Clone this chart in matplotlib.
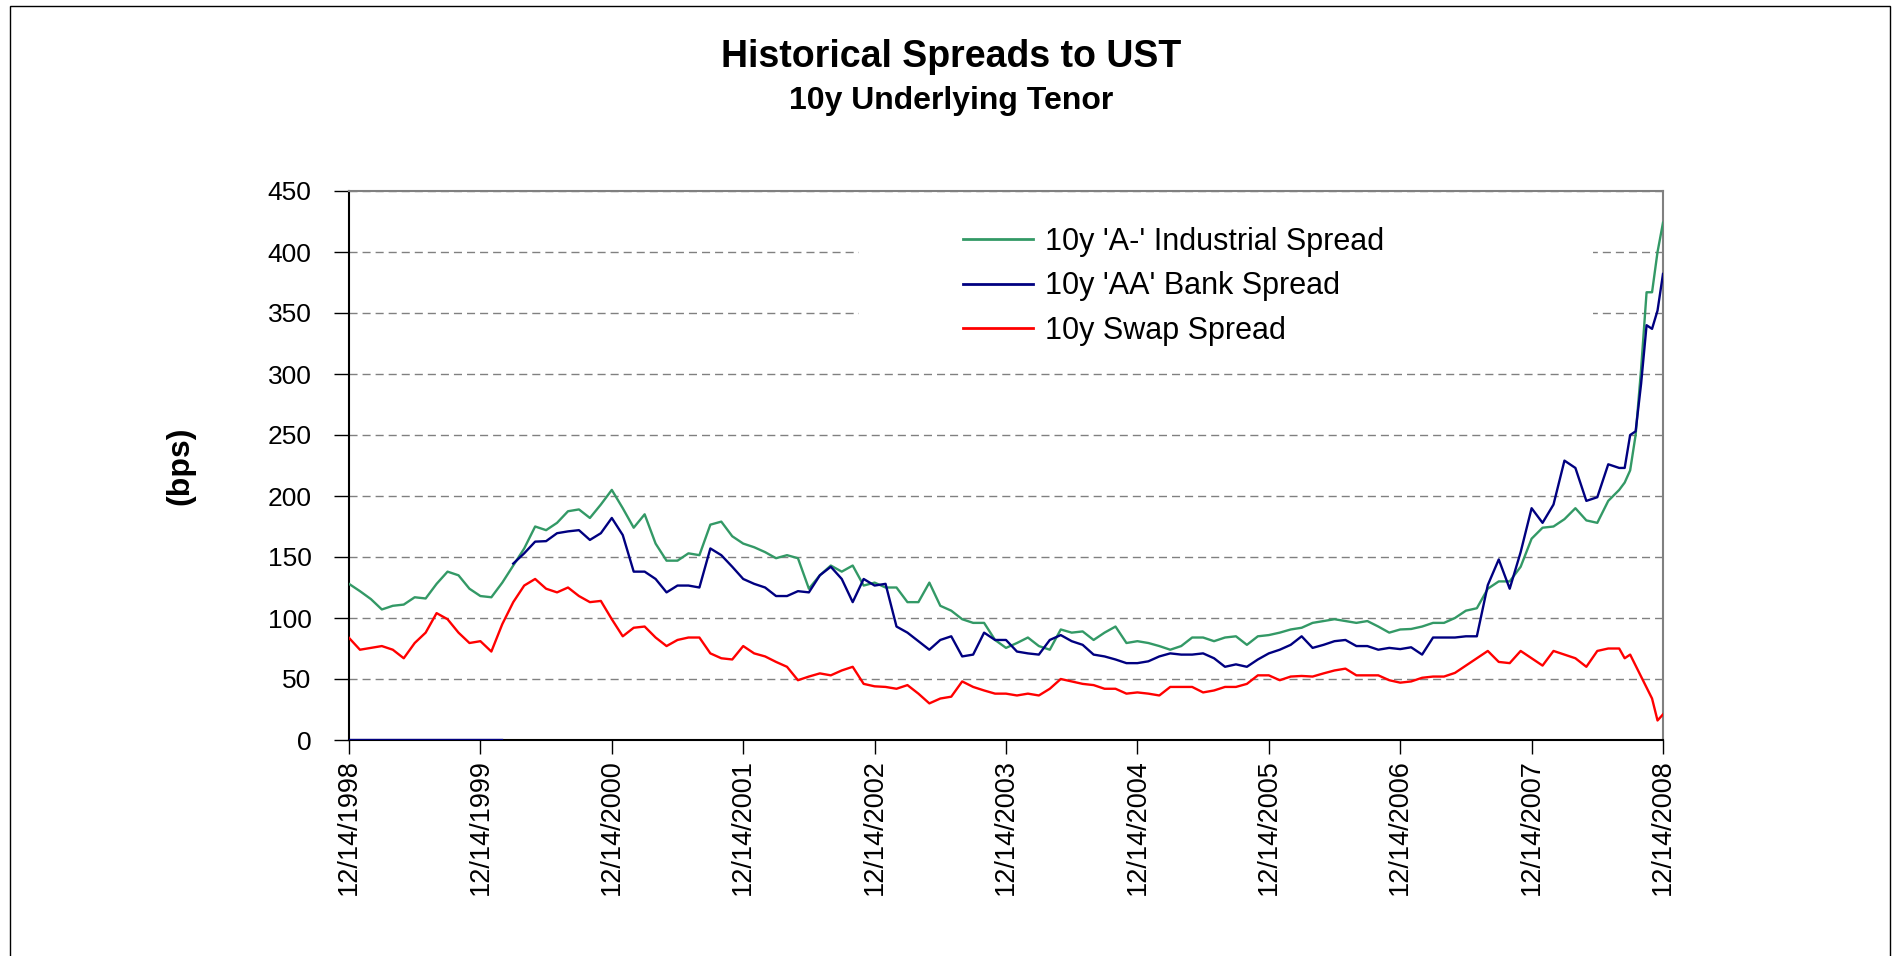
import matplotlib.pyplot as plt
from matplotlib.patches import Rectangle

plt.rcParams['font.family'] = ['Liberation Sans', 'DejaVu Sans']

# months since 12/14/1998 (monthly, half-monthly at the very end)
months = list(range(117)) + [116.5, 117, 117.5, 118, 118.5, 119, 119.5, 120]

industrial = [128, 122, 115.5, 107, 110, 111, 117, 116, 128, 138, 135, 124, 118, 117, 129, 143,
              157, 175, 172, 178, 187.5, 189, 182, 193, 205,
              190, 174, 185, 161, 147, 147, 153, 151.5, 176.5, 179, 167, 161, 158, 154, 149, 151.5,
              149, 124, 135, 143, 138, 143, 126.6, 129,
              125, 125, 113, 113, 129, 110, 106, 99, 96, 96, 82, 75.5, 79.5, 84, 77, 74, 90.6, 88,
              89, 82, 88, 93, 79.5, 81,
              79.5, 77, 74, 77, 84, 84, 81, 84, 85, 78, 85, 86, 88, 90.6, 92, 96, 97.5, 99, 97.5,
              96, 97.5, 93, 88, 90.6,
              91, 93, 96, 96, 100, 106, 108, 124, 130, 130, 142, 165, 174, 175, 181, 190, 180, 178,
              196, 205,
              211, 221, 250, 304, 367, 367, 400, 424]

bank = [0] * 15 + [144.6, 153, 162.6, 163, 169.5, 171, 172, 164, 169.5, 182,
                   168, 138, 138, 132, 121, 126.6, 126.6, 125, 157, 151.5, 142, 132, 128, 125, 118,
                   118, 122, 121, 135, 142, 132, 113, 132, 126.6,
                   128, 93, 88, 81, 74, 82, 85, 68.5, 70, 88, 82, 82, 72.5, 71, 70, 82, 86, 81, 78,
                   70, 68.5, 66, 63, 63,
                   64.5, 68.5, 71, 70, 70, 71, 67, 60, 62, 60, 66, 71, 74, 78, 85, 75.5, 78, 81, 82,
                   77, 77, 74, 75.5, 74.5,
                   76, 70, 84, 84, 84, 85, 85, 127, 148, 124, 154, 190, 178, 193, 229, 223, 196, 199,
                   226, 223,
                   223, 250, 253, 292, 340, 337, 352, 382]

swap = [83.7, 74, 75.5, 77, 74, 67, 79.5, 88, 104, 99, 88, 79.5, 81, 72.5, 95, 113, 126.6, 132,
        124, 121, 125, 118, 113, 114, 99,
        85, 92, 93, 84, 77, 82, 84, 84, 71, 67, 66, 77, 71, 68.5, 64, 60, 49, 52, 54.6, 53, 57,
        60, 46, 44,
        43.5, 42, 45, 38, 30, 34, 35.5, 48, 43.5, 40.6, 38, 38, 36.5, 38, 36.5, 42, 50, 48, 46,
        45, 42, 42, 38, 39,
        38, 36.5, 43.5, 43.5, 43.5, 39, 40.6, 43.5, 43.5, 46, 53, 53, 49, 52, 52.5, 52, 54.6, 57,
        58.5, 53, 53, 53, 49, 47,
        48, 51, 52, 52, 55, 61, 67, 73, 64, 63, 73, 67, 61, 73, 70, 67, 60, 73, 75, 75,
        67, 70, 61, 52, 43, 34, 16, 21]

year_ticks = list(range(0, 121, 12))
year_labels = ['12/14/%d' % (1998 + i) for i in range(11)]
labels = ["10y 'A-' Industrial Spread", "10y 'AA' Bank Spread", "10y Swap Spread"]

fig = plt.figure(figsize=(19.02, 9.56), dpi=100)
ax = fig.add_axes([349 / 1902, 1 - 740 / 956, 1314 / 1902, 549 / 956])

# outer chart frame
fig.add_artist(Rectangle((10 / 1902, -0.05), 1880 / 1902, 1.05 - 6 / 956,
                         transform=fig.transFigure, fill=False, ec='black', lw=1))

ax.set_axisbelow(True)
ax.yaxis.grid(True, color='#808080', lw=1.0, linestyle=(0, (5.8, 3.6)))

# white legend area hides the gridlines
ax.add_patch(Rectangle((0.388, 0.71), 0.559, 0.25, transform=ax.transAxes,
                       fc='white', ec='none', zorder=1))

lw = 1.7
ax.plot(months, industrial, color='#339966', lw=lw, label=labels[0], zorder=3)
ax.plot(months[15:], bank[15:], color='#000080', lw=lw, label=labels[1], zorder=4)
ax.plot(months[:15], bank[:15], color='#000080', lw=lw, zorder=4)
ax.plot(months, swap, color='#FF0000', lw=lw, label=labels[2], zorder=3)

ax.set_xlim(0, 120)
ax.set_ylim(0, 450)
ax.set_yticks(range(0, 451, 50))
ax.set_xticks(year_ticks)
ax.set_xticklabels(year_labels, rotation=90, fontsize=19.5)
ax.tick_params(axis='y', labelsize=19, length=11, width=1.0, pad=16, direction='out')
ax.tick_params(axis='x', length=10, width=1.0, pad=4, direction='out')

for s in ['left', 'bottom']:
    ax.spines[s].set_color('black')
    ax.spines[s].set_linewidth(1.5)
for s in ['top', 'right']:
    ax.spines[s].set_color('#808080')
    ax.spines[s].set_linewidth(1.5)

ax.set_ylabel('(bps)', fontsize=23, fontweight='bold', labelpad=52)

leg = ax.legend(loc='upper left', bbox_to_anchor=(0.467, 0.935), frameon=False,
                fontsize=22, handlelength=2.3, handletextpad=0.38, labelspacing=0.48,
                borderpad=0, borderaxespad=0)
for line in leg.get_lines():
    line.set_linewidth(2)

fig.text(0.5, 1 - 57 / 956, 'Historical Spreads to UST', ha='center', va='center',
         fontsize=27, fontweight='bold')
fig.text(0.5, 1 - 101 / 956, '10y Underlying Tenor', ha='center', va='center',
         fontsize=23, fontweight='bold')

fig.savefig('out.png', dpi=100)
